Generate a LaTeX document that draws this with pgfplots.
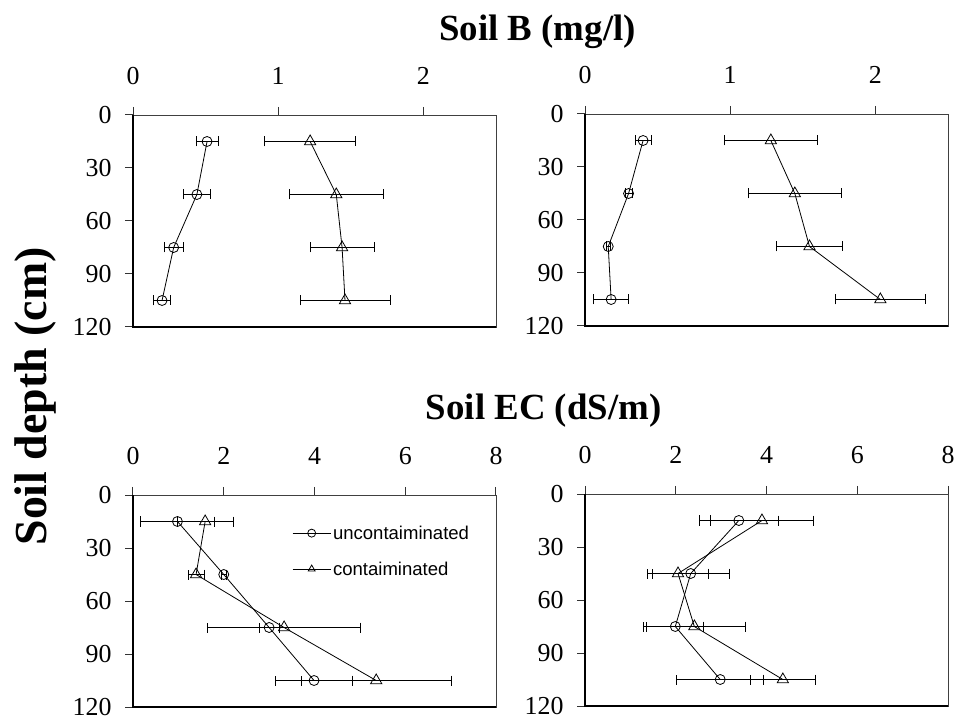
\documentclass[border=0pt]{standalone}
\usepackage{fontspec}
\setmainfont{Liberation Serif}
\newfontfamily\arialfont{Liberation Sans}
\usepackage{pgfplots}
\pgfplotsset{compat=1.18}

\pgfplotsset{
  panel/.style={
    scale only axis, width=363bp, height=212bp,
    y dir=reverse, ymin=0, ymax=120, ytick={0,30,60,90,120},
    xmin=0,
    xtick pos=upper, xticklabel pos=upper,
    ytick pos=left,
    tick align=outside,
    major tick length=8bp,
    axis line style={line width=0.9bp, black!75},
    tick style={line width=1bp, black!80},
    ticklabel style={font=\fontsize{26}{30}\selectfont},
    xticklabel style={text depth=0pt, yshift=19bp},
    yticklabel style={xshift=-10bp},
    /pgf/number format/assume math mode=true,
    every axis plot/.append style={black, line width=0.8bp},
    after end axis/.code={\draw[line width=1.4bp, black] (rel axis cs:0,1) -- (rel axis cs:0,0) -- (rel axis cs:1,0);},
  },
  unc/.style={mark=o, mark size=5bp, mark options={solid, fill=white},
    error bars/.cd, x dir=both, x explicit,
    error bar style={line width=0.8bp},
    error mark=-,
    error mark options={rotate=90, mark size=5bp, line width=0.8bp}},
  con/.style={mark=triangle, mark size=6.5bp, mark options={solid, fill=white},
    error bars/.cd, x dir=both, x explicit,
    error bar style={line width=0.8bp},
    error mark=-,
    error mark options={rotate=90, mark size=5bp, line width=0.8bp}},
}

\begin{document}
\begin{tikzpicture}
\path[use as bounding box] (0bp,0bp) rectangle (956bp,720bp);

% Top-left: Soil B
\begin{axis}[panel, at={(133bp,393bp)}, anchor=south west,
  xmax=2.5, xtick={0,1,2}]
\addplot[unc] table[x=x,y=y,x error=e] {
x y e
0.51 15 0.075
0.44 45 0.09
0.28 75 0.065
0.20 105 0.06
};
\addplot[con] table[x=x,y=y,x error=e] {
x y e
1.22 15 0.315
1.40 45 0.325
1.44 75 0.22
1.46 105 0.31
};
\end{axis}

% Top-right: Soil B
\begin{axis}[panel, at={(585bp,394bp)}, anchor=south west,
  xmax=2.5, xtick={0,1,2}]
\addplot[unc] table[x=x,y=y,x error=e] {
x y e
0.40 15 0.055
0.30 45 0.025
0.16 75 0.015
0.18 105 0.12
};
\addplot[con] table[x=x,y=y,x error=e] {
x y e
1.28 15 0.32
1.445 45 0.32
1.546 75 0.225
2.034 105 0.31
};
\end{axis}

% Bottom-left: Soil EC
\begin{axis}[panel, at={(133bp,13bp)}, anchor=south west,
  xmax=8, xtick={0,2,4,6,8},
  legend style={draw=none, fill=none, at={(0.43,0.875)}, anchor=north west,
    font=\arialfont\fontsize{18.6}{22}\selectfont, row sep=17bp,
    cells={anchor=west}},
  legend image code/.code={\draw[mark repeat=2,mark phase=2,mark size=4bp,#1] plot coordinates {(0bp,0bp) (19bp,0bp) (38bp,0bp)};}]
\addplot[unc] table[x=x,y=y,x error=e] {
x y e
0.98 15 0.81
2.0 45 0.05
3.0 75 0.22
3.99 105 0.85
};
\addlegendentry{uncontaiminated}
\addplot[con] table[x=x,y=y,x error=e] {
x y e
1.59 15 0.62
1.39 45 0.18
3.33 75 1.69
5.36 105 1.65
};
\addlegendentry{contaiminated}
\end{axis}

% Bottom-right: Soil EC
\begin{axis}[panel, at={(585bp,14bp)}, anchor=south west,
  xmax=8, xtick={0,2,4,6,8}]
\addplot[unc] table[x=x,y=y,x error=e] {
x y e
3.39 15 0.87
2.33 45 0.85
1.99 75 0.63
2.98 105 0.96
};
\addplot[con] table[x=x,y=y,x error=e] {
x y e
3.90 15 1.14
2.05 45 0.68
2.41 75 1.13
4.36 105 0.71
};
\end{axis}

\node[anchor=base, font=\bfseries\fontsize{37}{40}\selectfont] at (537.5bp,679.5bp) {Soil B (mg/l)};
\node[anchor=base, font=\bfseries\fontsize{37}{40}\selectfont] at (543.7bp,300bp) {Soil EC (dS/m)};
\node[anchor=base, rotate=90, font=\bfseries\fontsize{46}{50}\selectfont] at (46bp,323.5bp) {Soil depth (cm)};
\end{tikzpicture}
\end{document}
